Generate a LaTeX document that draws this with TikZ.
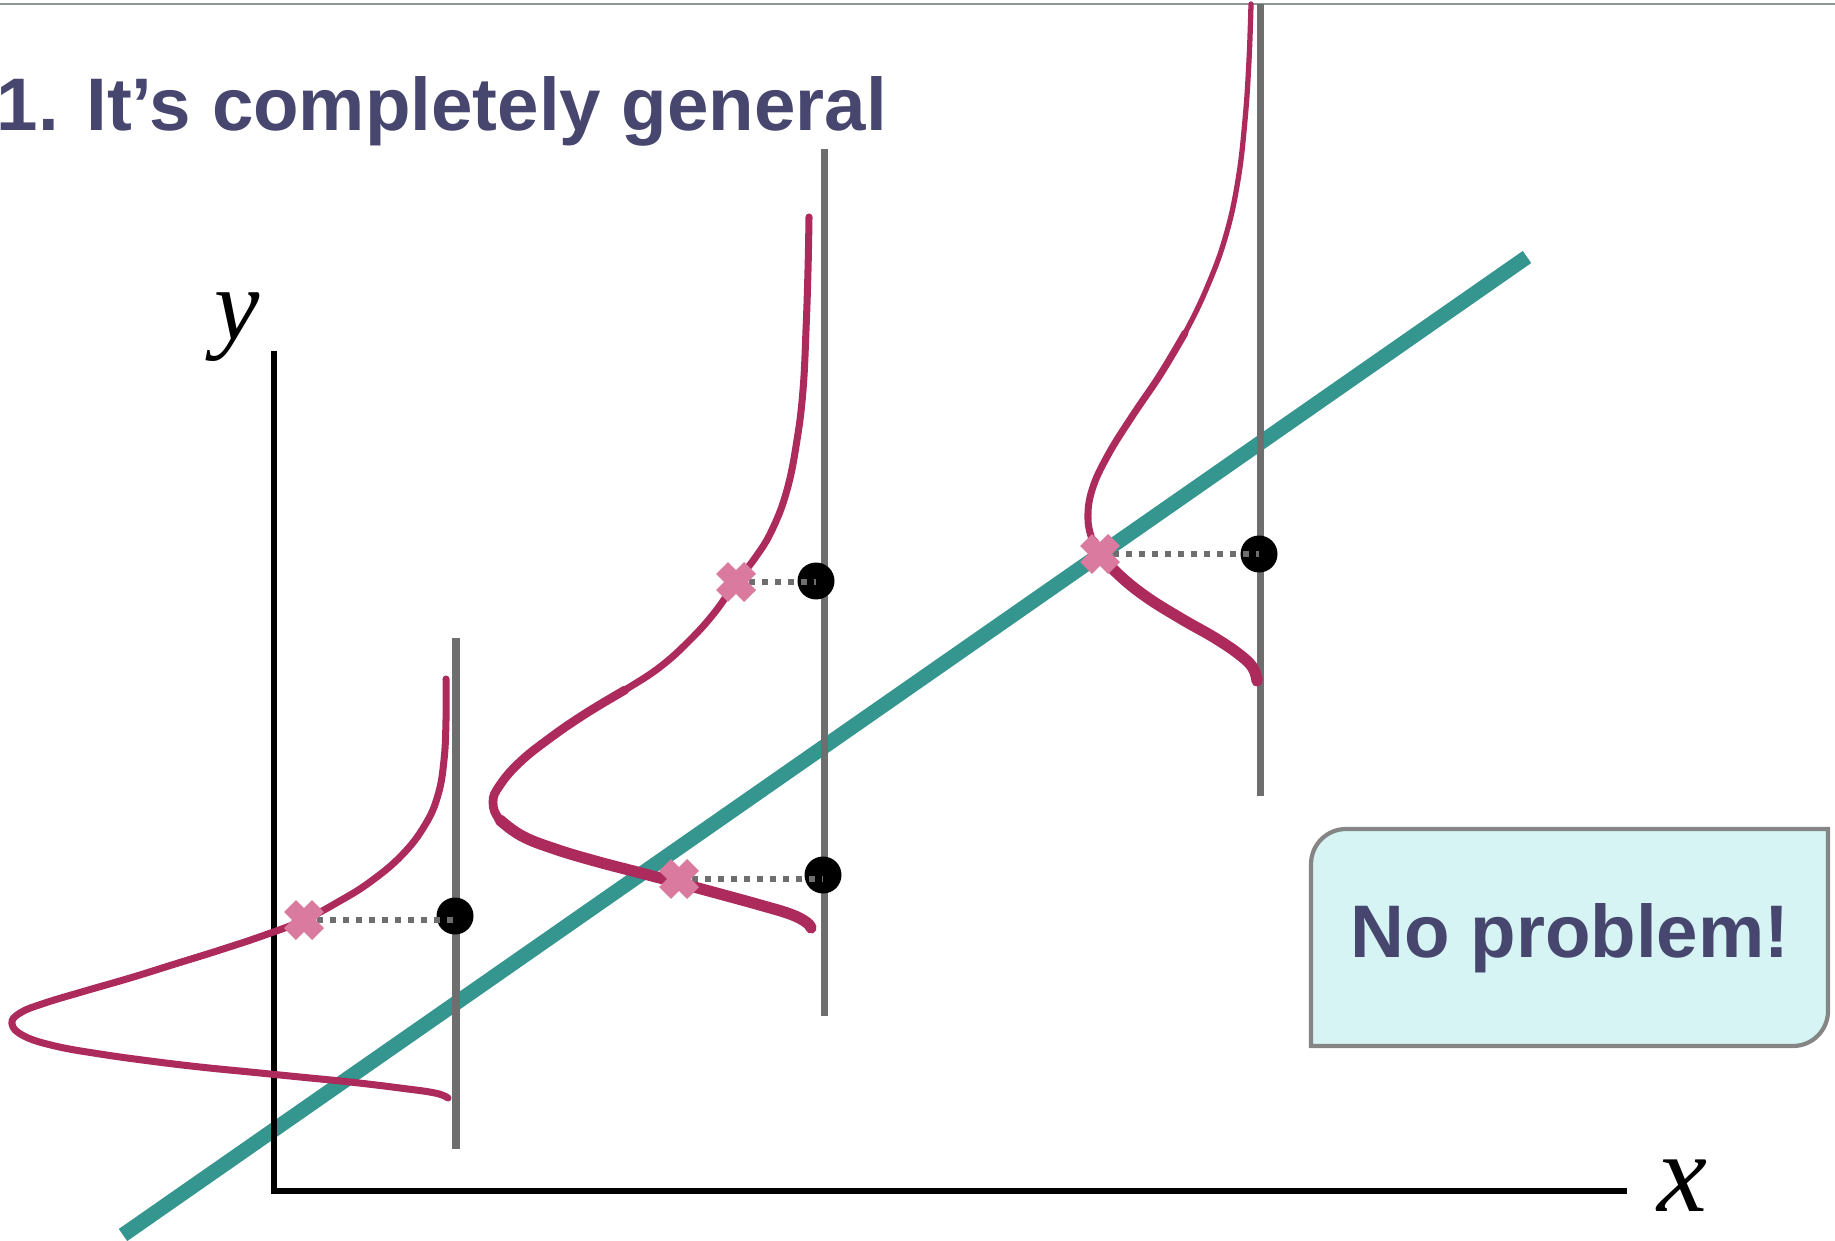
\documentclass[tikz,border=0pt]{standalone}
\usepackage{fontspec}
\setmainfont{Liberation Sans}
\newfontfamily\serifit{Liberation Serif}
\definecolor{titleblue}{HTML}{46466E}
\definecolor{tealline}{HTML}{35958F}
\definecolor{curvemag}{HTML}{AD2A5D}
\definecolor{crosspink}{HTML}{DA7A9E}
\definecolor{slicegray}{HTML}{6E6E6E}
\definecolor{boxfill}{HTML}{D5F4F3}
\definecolor{boxedge}{HTML}{858585}
\definecolor{rulegray}{HTML}{8E9696}
\begin{document}
\begin{tikzpicture}[x=0.1mm,y=-0.1mm,
  axisline/.style={line width=1.9pt, black},
  sliceline/.style={line width=2pt, slicegray},
  regline/.style={line width=4.2pt, tealline},
  density/.style={line width=2pt, curvemag, line cap=round, line join=round},
  densitythin/.style={line width=1.5pt, curvemag, line cap=round, line join=round},
  densitymid/.style={line width=2.5pt, curvemag, line cap=round, line join=round},
  densitythick/.style={line width=3.2pt, curvemag, line cap=round, line join=round},
  obsdot/.style={circle, fill=black, minimum size=3.7mm, inner sep=0pt},
  crossline/.style={crosspink, line width=4.8pt},
  residual/.style={slicegray, line width=1.8pt, dash pattern=on 1.8pt off 1.9pt},
  titletext/.style={font=\fontsize{21.2}{26}\selectfont\bfseries, text=titleblue, inner sep=0pt},
  ylabelstyle/.style={font=\serifit\itshape\fontsize{29}{34}\selectfont, inner sep=0pt},
  xlabelstyle/.style={font=\serifit\itshape\fontsize{32}{38}\selectfont, inner sep=0pt},
  calloutbox/.style={draw=boxedge, fill=boxfill, line width=1.2pt},
  crv/.style={smooth, tension=0.7}
]
\useasboundingbox (0,0) rectangle (1835,1241);
\draw[rulegray, line width=0.8pt] (0,4) -- (1835,4);
\node[titletext, anchor=base west] (title) at (-4,131) {1. It’s completely general};

% regression line
\coordinate (regA) at (123,1235);
\coordinate (regB) at (1527,257);
\draw[regline] (regA) -- (regB);

% axes
\coordinate (ytop) at (274,351);
\coordinate (orig) at (274,1191);
\coordinate (xend) at (1627,1191);
\draw[axisline] (ytop) -- (orig) -- (xend);
\node[ylabelstyle] (ylab) at (237,327) {y};
\node[xlabelstyle] (xlab) at (1682,1186) {x};

% slices
\coordinate (s1top) at (456,638); \coordinate (s1bot) at (456,1149);
\coordinate (s2top) at (824,149); \coordinate (s2bot) at (824,1016);
\coordinate (s3top) at (1260,4);  \coordinate (s3bot) at (1260,796);
\draw[sliceline] (s1top) -- (s1bot);
\draw[sliceline] (s2top) -- (s2bot);
\draw[sliceline] (s3top) -- (s3bot);

% density curve 1
\draw[density] plot[crv] coordinates {(446,679) (446,720) (444,760) (438,795) (425,825) (402,855) (370,882) (338,902) (304,920) (265,935) (220,950) (175,964) (130,978) (85,991) (45,1003) (20,1013) (12,1024) (24,1036) (55,1046) (100,1054) (150,1061) (200,1067) (250,1072) (300,1077) (350,1082) (400,1088) (435,1093) (448,1098)};

% density curve 2
\draw[density] plot[crv] coordinates {(809,217) (808,270) (806,330) (803,390) (797,440) (787,490) (772,530) (755,558) (736,582) (715,612) (690,640) (660,667) (625,690) (585,714) (550,738) (520,762) (500,785) (493,802) (500,820) (522,836) (555,849) (595,861) (637,872) (679,883) (720,894) (760,905) (790,914) (806,922) (811,928)};
\draw[densitymid] plot[crv] coordinates {(625,690) (585,714) (550,738) (520,762) (500,785) (493,802) (500,820) (522,836)};
\draw[densitythick] plot[crv] coordinates {(500,820) (522,836) (555,849) (595,861) (637,872) (679,883) (720,894) (760,905) (790,914) (806,922) (811,928)};

% density curve 3
\draw[densitythin] plot[crv] coordinates {(1251,4) (1249,60) (1245,120) (1238,180) (1226,235) (1208,285) (1185,333) (1160,375) (1133,415) (1108,455) (1092,490) (1088,520) (1093,542) (1100,554) (1118,574) (1145,596) (1180,618) (1215,638) (1240,655) (1253,668) (1257,681)};
\draw[density] plot[crv] coordinates {(1185,333) (1160,375) (1133,415) (1108,455) (1092,490) (1088,520) (1093,542)};
\draw[densitythick] plot[crv] coordinates {(1093,542) (1100,554) (1118,574) (1145,596) (1180,618) (1215,638) (1240,655) (1253,668) (1257,681)};

% observations and predictions
\node[obsdot] (d1) at (455,916) {};
\node[obsdot] (d2) at (816,581) {};
\node[obsdot] (d3) at (823,875) {};
\node[obsdot] (d4) at (1259,554) {};
\coordinate (x1) at (304,920);
\coordinate (x2) at (736,582);
\coordinate (x3) at (679,879);
\coordinate (x4) at (1100,554);
\draw[residual] (x1) -- (x1 -| d1);
\draw[residual] (x2) -- (x2 -| d2);
\draw[residual] (x3) -- (x3 -| d3);
\draw[residual] (x4) -- (x4 -| d4);
\foreach \m in {x1,x2,x3,x4}{
  \draw[crossline] (\m) ++(-14,-14) -- ++(28,28);
  \draw[crossline] (\m) ++(-14,14) -- ++(28,-28);
}

% callout
\path[calloutbox] (1311,1046) -- (1311,864) .. controls (1311,844.7) and (1326.7,829) .. (1346,829) -- (1828,829) -- (1828,1011) .. controls (1828,1030.3) and (1812.3,1046) .. (1793,1046) -- cycle;
\node[titletext, anchor=base] (np) at (1570,957) {No problem!};
\end{tikzpicture}
\end{document}
